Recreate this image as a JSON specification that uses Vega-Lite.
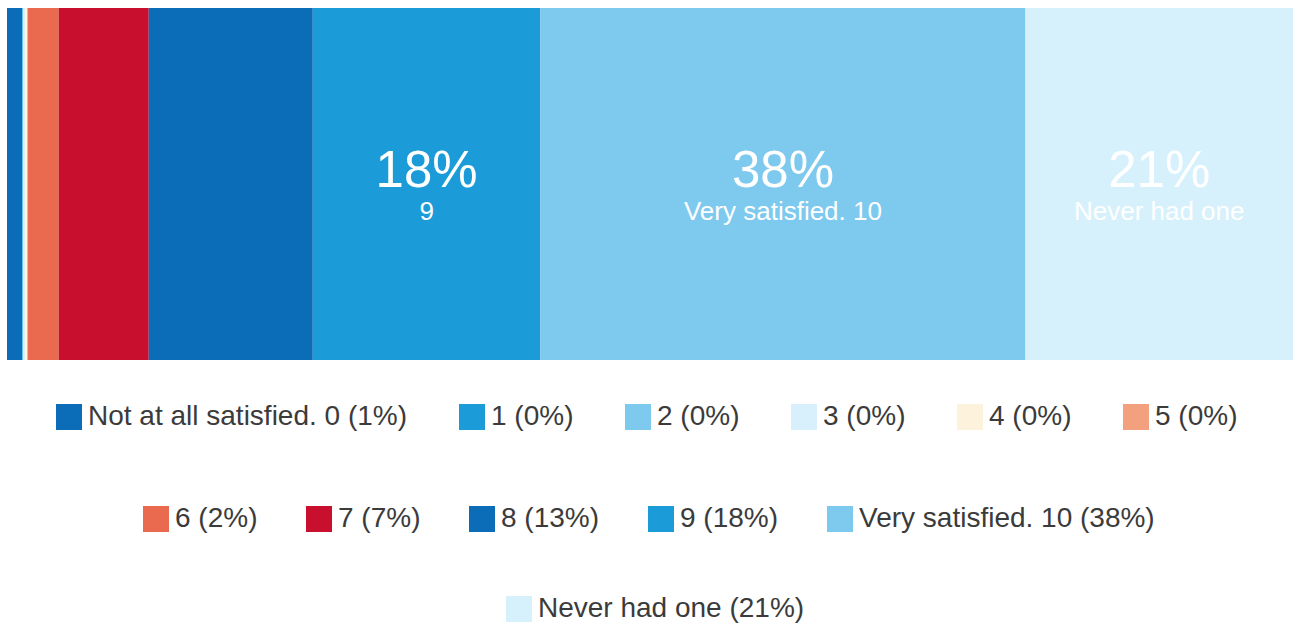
{
  "$schema": "https://vega.github.io/schema/vega-lite/v6.json",
  "width": 1286,
  "height": 352,
  "padding": {"left": 7, "top": 8, "right": 3, "bottom": 0},
  "background": "white",
  "config": {
    "view": {"stroke": null},
    "font": "Liberation Sans",
    "legend": {
      "labelFont": "Liberation Sans",
      "labelFontSize": 28,
      "labelColor": "#3b3b3b",
      "labelLimit": 0,
      "symbolType": "square",
      "symbolSize": 676,
      "symbolStrokeWidth": 0,
      "symbolOpacity": 1,
      "labelOffset": 5,
      "columnPadding": 48,
      "padding": 0,
      "direction": "horizontal",
      "orient": "none",
      "title": null
    }
  },
  "data": {
    "values": [
      {"order": 0, "row": "all", "g": 1, "name": "Not at all satisfied. 0", "label": "Not at all satisfied. 0 (1%)", "pct": "1%", "value": 1.17},
      {"order": 1, "row": "all", "g": 1, "name": "1", "label": "1 (0%)", "pct": "0%", "value": 0.05},
      {"order": 2, "row": "all", "g": 1, "name": "2", "label": "2 (0%)", "pct": "0%", "value": 0.05},
      {"order": 3, "row": "all", "g": 1, "name": "3", "label": "3 (0%)", "pct": "0%", "value": 0.15},
      {"order": 4, "row": "all", "g": 1, "name": "4", "label": "4 (0%)", "pct": "0%", "value": 0.15},
      {"order": 5, "row": "all", "g": 1, "name": "5", "label": "5 (0%)", "pct": "0%", "value": 0.05},
      {"order": 6, "row": "all", "g": 2, "name": "6", "label": "6 (2%)", "pct": "2%", "value": 2.4},
      {"order": 7, "row": "all", "g": 2, "name": "7", "label": "7 (7%)", "pct": "7%", "value": 7.0},
      {"order": 8, "row": "all", "g": 2, "name": "8", "label": "8 (13%)", "pct": "13%", "value": 12.75},
      {"order": 9, "row": "all", "g": 2, "name": "9", "label": "9 (18%)", "pct": "18%", "value": 17.7},
      {"order": 10, "row": "all", "g": 2, "name": "Very satisfied. 10", "label": "Very satisfied. 10 (38%)", "pct": "38%", "value": 37.7},
      {"order": 11, "row": "all", "g": 3, "name": "Never had one", "label": "Never had one (21%)", "pct": "21%", "value": 20.8}
    ]
  },
  "transform": [
    {"stack": "value", "groupby": ["row"], "sort": [{"field": "order", "order": "ascending"}], "offset": "normalize", "as": ["x0", "x1"]},
    {"calculate": "(datum.x0 + datum.x1) / 2", "as": "xm"}
  ],
  "encoding": {
    "y": {"field": "row", "type": "nominal", "axis": null, "scale": {"paddingInner": 0, "paddingOuter": 0}}
  },
  "layer": [
    {
      "transform": [{"filter": "datum.g == 1"}],
      "mark": {"type": "bar"},
      "encoding": {
        "x": {"field": "x0", "type": "quantitative", "axis": null, "scale": {"domain": [0, 1], "nice": false, "zero": false}},
        "x2": {"field": "x1"},
        "color": {
          "field": "label", "type": "nominal",
          "scale": {
            "domain": ["Not at all satisfied. 0 (1%)", "1 (0%)", "2 (0%)", "3 (0%)", "4 (0%)", "5 (0%)"],
            "range": ["#0b6cb8", "#1b9bd7", "#7ec9ee", "#d8f0fb", "#fdf3dc", "#f2a07e"]
          },
          "legend": {"orient": "none", "legendX": 48, "legendY": 395, "direction": "horizontal", "title": null, "columnPadding": 50}
        }
      }
    },
    {
      "transform": [{"filter": "datum.g == 2"}],
      "mark": {"type": "bar"},
      "encoding": {
        "x": {"field": "x0", "type": "quantitative"},
        "x2": {"field": "x1"},
        "color": {
          "field": "label", "type": "nominal",
          "scale": {
            "domain": ["6 (2%)", "7 (7%)", "8 (13%)", "9 (18%)", "Very satisfied. 10 (38%)"],
            "range": ["#ea6a50", "#c8102e", "#0b6cb8", "#1b9bd7", "#7ec9ee"]
          },
          "legend": {"orient": "none", "legendX": 135, "legendY": 497, "direction": "horizontal", "title": null, "columnPadding": 47}
        }
      }
    },
    {
      "transform": [{"filter": "datum.g == 3"}],
      "mark": {"type": "bar"},
      "encoding": {
        "x": {"field": "x0", "type": "quantitative"},
        "x2": {"field": "x1"},
        "color": {
          "field": "label", "type": "nominal",
          "scale": {"domain": ["Never had one (21%)"], "range": ["#d6f1fc"]},
          "legend": {"orient": "none", "legendX": 498, "legendY": 587, "direction": "horizontal", "title": null}
        }
      }
    },
    {
      "transform": [{"filter": "datum.value >= 15"}],
      "mark": {"type": "text", "color": "white", "fontSize": 51, "baseline": "middle", "align": "center", "dy": -12},
      "encoding": {
        "x": {"field": "xm", "type": "quantitative"},
        "text": {"field": "pct"}
      }
    },
    {
      "transform": [{"filter": "datum.value >= 15"}],
      "mark": {"type": "text", "color": "white", "fontSize": 26, "baseline": "middle", "align": "center", "dy": 28},
      "encoding": {
        "x": {"field": "xm", "type": "quantitative"},
        "text": {"field": "name"}
      }
    }
  ],
  "resolve": {"scale": {"color": "independent"}, "legend": {"color": "independent"}}
}
